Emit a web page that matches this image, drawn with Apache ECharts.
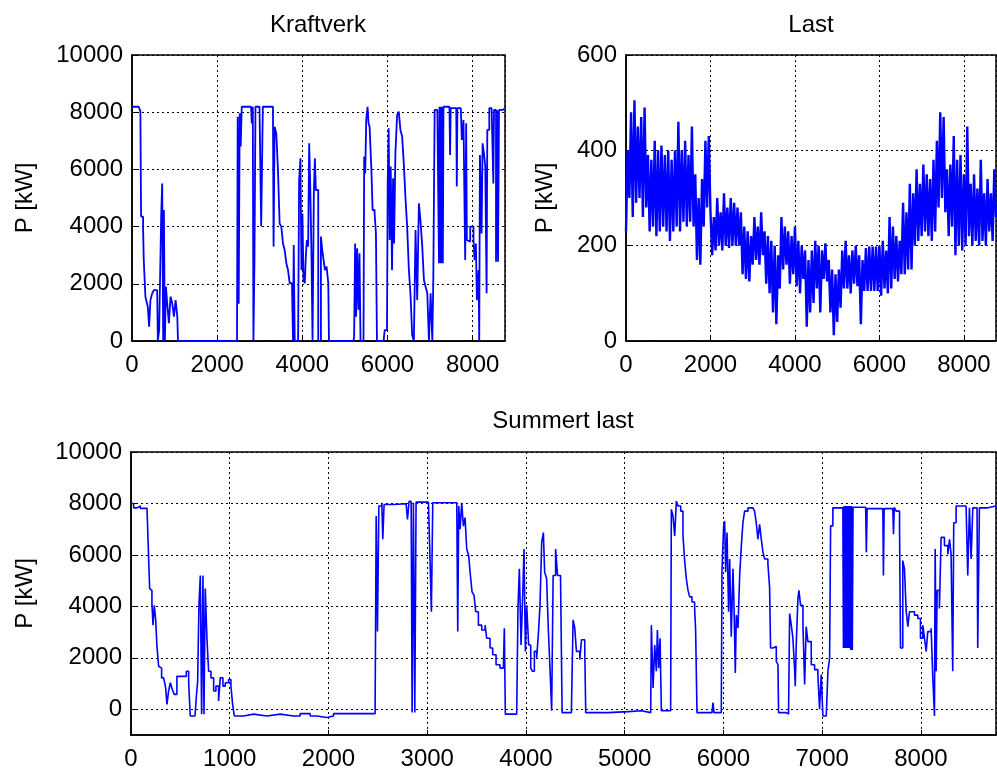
<!DOCTYPE html>
<html>
<head>
<meta charset="utf-8">
<script src="https://cdn.jsdelivr.net/npm/echarts@6/dist/echarts.min.js"></script>
<style>
  html, body { margin: 0; padding: 0; background: #fff; }
  #chart { width: 997px; height: 771px; }
</style>
</head>
<body>
<div id="chart"></div>
<script>
// Kraftverk (top left), hours / kW
const kraftHours = [0,158,181,197,213,260,276,315,355,371,402,433,473,512,591,607,638,670,685,709,733,749,772,796,827,866,906,945,985,1024,1064,1080,
  2466,2482,2506,2529,2553,2577,2797,2813,2837,2852,2876,2900,2994,3034,3073,3310,3325,3349,3389,3428,3467,3507,3546,3585,3625,3664,3703,3759,3782,3798,3822,
  3901,3925,3956,3980,4003,4027,4058,4082,4106,4137,4161,4185,4216,4240,4271,4295,4318,4350,4374,4413,4437,4468,4500,4531,4570,4610,4626,
  5201,5217,5240,5264,5288,5319,5343,5367,5437,5453,5477,5501,5532,5556,5580,5619,5651,5698,5729,5753,
  5910,5934,5989,6005,6028,6052,6076,6107,6131,6155,6186,6226,6265,6304,6344,6383,6423,6462,6501,6541,6580,6620,6659,6698,6738,6777,6817,6856,6895,6935,6974,7013,7053,7076,7108,7171,
  7210,7222,7240,7255,7270,7285,7300,7315,7368,7455,7470,7485,7615,7628,7642,7722,7746,7785,7825,7848,7864,7903,7943,8021,8045,8076,8100,8139,8155,8171,8210,8234,8265,8297,8328,8344,8391,8446,8486,8502,8549,8572,8596,8619,8714,8760];
const kraftKW = [8190,8190,8100,8020,4350,4000,2830,1550,1550,1200,500,1430,1660,1780,1780,0,380,380,4350,5510,0,4580,0,1900,1320,620,1550,1320,850,1430,850,0,
  0,7840,1300,7960,6800,8190,8190,7610,8190,0,2830,8190,8250,4000,8190,8190,3300,7490,7260,5980,4110,4000,3410,3180,2720,2480,2020,1840,0,3360,0,
  0,5630,6390,2480,4460,2130,2020,2950,3530,3300,6910,5510,2950,0,5220,6390,5280,5280,0,0,3650,3180,2830,2480,2600,2020,0,
  0,150,3410,850,3240,1090,3070,0,0,6450,5860,7730,8190,7610,7490,6100,4580,4460,3760,0,
  0,380,500,5510,7440,3530,6100,2480,5690,3410,6570,7900,8020,7380,7150,6210,4990,4000,2540,1610,210,0,3880,1430,4810,4170,3300,2130,1900,1670,0,1670,0,2130,8080,8080,
  2720,8190,2720,8190,2720,8190,2720,8190,8190,8190,6500,8140,8140,5400,8140,8080,7030,7730,2830,7610,3530,3470,4000,3530,2830,3410,1430,2480,0,6500,3760,6910,6570,6100,1670,7380,8140,8080,5510,8080,2770,8080,2770,8080,8080,8140];

// Last (top right), one reading every 40 h
const lastStep = 40;
const lastKW = [230,400,300,480,260, 505,290,450,300,470, 260,490,280,390,230, 380,240,420,220,400,
  230,410,240,390,230, 400,210,380,230,400, 240,460,230,400,250, 420,240,390,250,450,
  240,350,170,300,160, 340,240,420,280,430, 270,180,260,190,300, 200,270,190,310,200,
  280,195,300,200,290, 200,280,200,270,140, 240,130,230,125,220, 160,260,170,240,160,
  270,180,230,120,220, 100,210,60,200,35, 180,110,260,150,240, 160,230,120,220,140,
  240,115,210,100,200, 130,190,30,170,60, 190,80,210,110,200, 60,190,130,205,125,
  170,60,150,12,140, 40,150,70,190,110, 210,110,180,100,190, 120,200,115,180,35,
  170,105,195,105,198, 105,198,105,198,105, 200,95,210,110,190, 100,260,110,240,130,
  220,125,210,140,290, 140,270,150,330,150, 310,200,360,210,330, 220,370,230,350,220,
  340,210,380,230,420, 280,480,300,470,270, 360,220,370,240,430, 180,380,200,390,190,
  350,200,450,220,330, 200,350,210,320,200, 380,210,310,200,340, 230,310,210,360,260];

// Summert last (bottom), hours / kW
const sumHours = [0,27,61,94,162,182,189,202,212,223,236,250,263,280,297,310,331,351,364,381,398,418,438,465,516,560,584,600,648,661,675,688,702,715,729,739,752,769,786,810,837,860,887,904,931,955,988,1012,1029,1046,
  1140,1241,1376,1511,1646,1713,1815,1882,1983,2051,2253,2472,2483,2496,2510,2540,2550,2563,2658,2786,2800,2816,2837,2847,2860,2874,2887,3012,3029,3042,3056,3299,3309,3319,3333,3349,3366,3383,
  3400,3420,3434,3454,3474,3491,3518,3552,3586,3602,3636,3663,3697,3737,3771,3781,3791,3906,3919,3933,3950,3967,3980,3994,4007,4027,4048,4064,4085,4108,4125,4142,4159,4176,4189,4209,4226,4243,
  4260,4275,4300,4320,4350,4362,4366,4460,4477,4494,4511,4545,4562,4595,4605,4831,5034,5169,5263,5270,5287,5304,5320,5331,5344,5358,5371,5465,5472,5489,5506,5523,5540,5567,5590,5607,5624,5641,
  5658,5681,5708,5718,5732,5884,5894,5904,5978,5985,6002,6012,6022,6036,6052,6063,6079,6096,6106,6120,6130,6147,6164,6181,6197,6214,6248,6299,6315,6332,6349,6366,6383,6400,6417,6450,6467,6477,
  6501,6535,6552,6558,6636,6659,6670,6687,6703,6720,6727,6737,6754,6764,6781,6805,6822,6838,6855,6889,6923,6956,6973,6990,7007,7041,7058,7075,7085,7108,7209,7215,7222,7230,7237,7245,7252,7260,
  7267,7275,7282,7290,7297,7305,7312,7440,7447,7455,7614,7620,7627,7715,7722,7730,7749,7783,7793,7816,7833,7850,7867,7884,7934,7968,7995,8019,8036,8053,8069,8103,8120,8137,8144,8154,8164,8187,
  8204,8238,8272,8289,8305,8322,8332,8356,8457,8474,8491,8508,8525,8568,8575,8592,8676,8760];
const sumKW = [8000,7830,7900,7810,7770,7740,4690,4620,4110,3270,4040,3470,2440,1670,1600,1220,1160,830,190,710,1030,770,580,1280,1280,1480,1030,-260,-260,450,1090,4040,5200,-190,5200,-190,4690,2760,1480,1220,710,900,320,1220,900,1030,1160,900,190,-260,
  -190,-260,-190,-260,-260,-170,-260,-320,-260,-170,-170,-170,7510,3020,7900,8030,6610,7960,7990,7990,7380,8080,8080,-130,8030,-130,8050,8080,5710,3790,8030,8080,3020,7900,7000,8030,7120,7450,
  6230,5970,5330,4560,4430,3790,3270,3080,3270,2760,2380,2120,1730,1600,1600,3150,-190,-130,3920,5460,2500,4430,6230,2250,4040,2500,1600,1480,2250,1990,2890,4040,6480,6870,5330,5070,3150,1600,
  -60,5200,6230,5200,5070,5070,-130,-130,3470,3150,2250,1930,2700,2440,-130,-90,-60,-130,-90,3270,830,2500,1480,3080,1600,2760,-60,-130,7770,7510,6740,8090,7900,7700,6740,5780,5070,4620,
  4370,4170,3920,3080,-130,-130,260,-130,-60,5390,7130,7320,5330,6870,3790,5840,2820,5460,4170,1410,3660,3150,5200,6360,7250,7700,7830,7830,7700,7250,6610,7190,6610,6100,5840,5650,4750,2380,
  2440,1860,1730,-130,-190,-260,3720,3270,2760,1600,900,2500,4300,4620,4040,3270,960,3210,2630,1730,1540,1350,0,1350,-260,-260,1480,1990,7130,7830,7830,2380,7900,2380,7900,2380,7900,2380,
  7900,2380,7900,2300,7900,2300,7850,7830,6100,7800,7800,5200,7800,7800,6800,7850,7700,7060,2380,5780,5460,3850,3210,3790,3660,3530,2760,3270,2760,2250,3020,3150,1220,-260,6230,1480,4620,3920,
  6680,6360,6030,6610,6030,1480,7250,7900,7900,5200,7830,5840,7830,7830,2380,7830,7900,7830];

const powerTicks = [0, 2000, 4000, 6000, 8000, 10000];

const pairs = (xs, ys) => xs.map((x, i) => [x, ys[i]]);
const lastPairs = lastKW.map((v, i) => [i * lastStep, v]);

const FONT = 'Liberation Sans, Arial, sans-serif';
const lbl = { color: '#000', fontFamily: FONT, fontSize: 24 };
const plain = v => String(v);
const dotted = { show: true, lineStyle: { color: '#000', type: [2, 3], width: 1 } };
const axLine = { show: true, onZero: false, lineStyle: { color: '#000', width: 1.5 } };
const tick = { show: true, inside: true, length: 5, lineStyle: { color: '#000', width: 1 } };

function xAx(gridIndex, interval) {
  return {
    type: 'value', gridIndex: gridIndex, min: 0, max: 8760, interval: interval,
    axisLine: axLine, axisTick: tick, splitLine: dotted,
    axisLabel: Object.assign({ margin: 12, showMaxLabel: false, formatter: plain }, lbl)
  };
}

let myChart = echarts.init(document.getElementById('chart'));
let option = {
  animation: false,
  grid: [
    { left: 132, right: 492, top: 55, bottom: 430, show: true, borderColor: '#000', borderWidth: 1.5 },
    { left: 626, right: 1, top: 55, bottom: 430, show: true, borderColor: '#000', borderWidth: 1.5 },
    { left: 131, right: 1, top: 452, bottom: 34, show: true, borderColor: '#000', borderWidth: 1.5 }
  ],
  graphic: [
    { type: 'text', x: 318, y: 13, style: { text: 'Kraftverk', textAlign: 'center', fill: '#000', font: '24px ' + FONT } },
    { type: 'text', x: 811, y: 13, style: { text: 'Last', textAlign: 'center', fill: '#000', font: '24px ' + FONT } },
    { type: 'text', x: 563, y: 409, style: { text: 'Summert last', textAlign: 'center', fill: '#000', font: '24px ' + FONT } }
  ],
  xAxis: [xAx(0, 2000), xAx(1, 2000), xAx(2, 1000)],
  yAxis: [
    {
      type: 'value', gridIndex: 0, min: 0, max: 10000, interval: 2000,
      name: 'P [kW]', nameLocation: 'middle', nameGap: 95, nameTextStyle: lbl,
      axisLine: axLine, axisTick: tick, splitLine: dotted,
      axisLabel: Object.assign({ margin: 9, formatter: plain }, lbl)
    },
    {
      type: 'value', gridIndex: 1, min: 0, max: 600, interval: 200,
      name: 'P [kW]', nameLocation: 'middle', nameGap: 69, nameTextStyle: lbl,
      axisLine: axLine, axisTick: tick, splitLine: dotted,
      axisLabel: Object.assign({ margin: 9, formatter: plain }, lbl)
    },
    {
      type: 'value', gridIndex: 2, min: -1000, max: 10000,
      name: 'P [kW]', nameLocation: 'middle', nameGap: 94, nameTextStyle: lbl,
      axisLine: axLine,
      axisTick: Object.assign({ customValues: powerTicks }, tick),
      splitLine: dotted,
      axisLabel: Object.assign({ margin: 9, customValues: powerTicks, formatter: plain }, lbl)
    }
  ],
  series: [
    { name: 'Kraftverk', type: 'line', step: 'end', xAxisIndex: 0, yAxisIndex: 0, data: pairs(kraftHours, kraftKW),
      showSymbol: false, lineStyle: { color: '#0000ff', width: 1.8 } },
    { name: 'Last', type: 'line', step: 'end', xAxisIndex: 1, yAxisIndex: 1, data: lastPairs,
      showSymbol: false, lineStyle: { color: '#0000ff', width: 2.4 } },
    { name: 'Summert last', type: 'line', step: 'end', xAxisIndex: 2, yAxisIndex: 2, data: pairs(sumHours, sumKW),
      showSymbol: false, lineStyle: { color: '#0000ff', width: 1.6 } }
  ]
};
myChart.setOption(option);
</script>
</body>
</html>
